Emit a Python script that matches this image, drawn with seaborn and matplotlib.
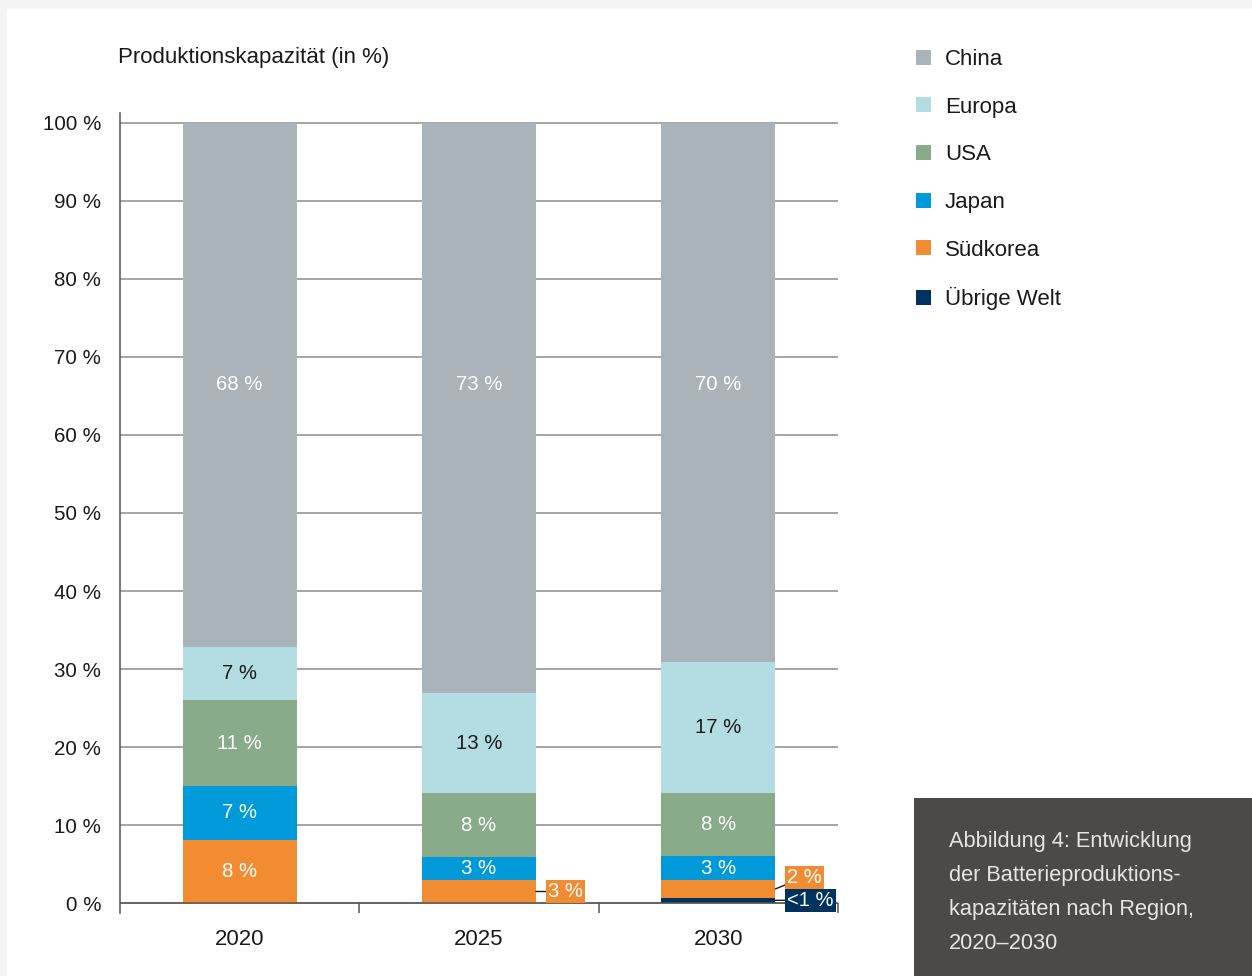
import matplotlib
matplotlib.use("Agg")
import matplotlib.pyplot as plt
from matplotlib.patches import Patch, Rectangle
import seaborn as sns
import pandas as pd
import numpy as np

# ---------------- data ----------------
years = ["2020", "2025", "2030"]
regions = ["China", "Europa", "USA", "Japan", "Südkorea", "Übrige Welt"]
china = [67.2, 73.1, 69.1]
europa = [6.8, 12.8, 16.8]
usa = [11.0, 8.2, 8.1]
japan = [6.9, 2.95, 3.1]
suedkorea = [8.1, 2.95, 2.2]
uebrige = [0.0, 0.0, 0.7]

label_china = ["68 %", "73 %", "70 %"]
label_europa = ["7 %", "13 %", "17 %"]
label_usa = ["11 %", "8 %", "8 %"]
label_japan = ["7 %", "3 %", "3 %"]
label_suedkorea = ["8 %", "3 %", "2 %"]
label_uebrige = ["", "", "<1 %"]

colors = {
    "China": "#a9b3b9",
    "Europa": "#b3dde3",
    "USA": "#8aab8a",
    "Japan": "#0099da",
    "Südkorea": "#f28c33",
    "Übrige Welt": "#00325f",
}

# ---------------- style ----------------
sns.set_style("white")
plt.rcParams["font.family"] = ["Liberation Sans", "DejaVu Sans"]

W, H = 1252, 976
fig = plt.figure(figsize=(W / 100, H / 100), dpi=100)
fig.patch.set_facecolor("white")
# light grey page border (top, left)
fig.patches.append(Rectangle((0, 1 - 9 / H), 1, 9 / H, transform=fig.transFigure,
                             facecolor="#f4f4f4", edgecolor="none", zorder=0))
fig.patches.append(Rectangle((0, 0), 7 / W, 1, transform=fig.transFigure,
                             facecolor="#f4f4f4", edgecolor="none", zorder=0))

ax = fig.add_axes([120 / W, (H - 913) / H, (838 - 120) / W, 800 / H])

series = {
    "China": china, "Europa": europa, "USA": usa,
    "Japan": japan, "Südkorea": suedkorea, "Übrige Welt": uebrige,
}
labels = {
    "China": label_china, "Europa": label_europa, "USA": label_usa,
    "Japan": label_japan, "Südkorea": label_suedkorea, "Übrige Welt": label_uebrige,
}

# stacking from bottom: Übrige Welt, Südkorea, Japan, USA, Europa, China
stack_order = regions[::-1]
rows = []
cum = np.zeros(len(years))
bottoms = {}
for r in stack_order:
    vals = np.array(series[r], dtype=float)
    bottoms[r] = cum.copy()
    cum = cum + vals
    for i, y in enumerate(years):
        rows.append({"year": y, "region": r, "top": cum[i], "value": vals[i],
                     "bottom": bottoms[r][i]})
df = pd.DataFrame(rows)

bar_w = 0.476
# draw cumulative bars from tallest to shortest so they overlay into a stack
for r in regions:
    sub = df[df.region == r]
    sns.barplot(data=sub, x="year", y="top", order=years, color=colors[r],
                saturation=1, width=bar_w, errorbar=None, ax=ax, zorder=2,
                linewidth=0)

# axes
ax.set_xlim(-0.5, 2.5)
ax.set_ylim(-1.28, 101.28)
ax.set_yticks(np.arange(0, 101, 10))
ax.set_yticklabels([f"{v} %" for v in range(0, 101, 10)])
ax.yaxis.grid(True, color="#8c8c8c", linewidth=1.1, zorder=0)
ax.set_axisbelow(True)
ax.tick_params(axis="y", length=10, width=1.1, color="#8c8c8c", pad=3.5,
               labelsize=14.8, labelcolor="#1a1a1a")
ax.set_xticks(range(len(years)))
ax.set_xticklabels(years)
ax.tick_params(axis="x", length=0, pad=11.5, labelsize=16, labelcolor="#1a1a1a")
ax.set_xlabel("")
ax.set_ylabel("")
for s in ["top", "right", "bottom"]:
    ax.spines[s].set_visible(False)
ax.spines["left"].set_color("#555555")
ax.spines["left"].set_linewidth(1.1)
ax.axhline(0, color="#555555", linewidth=1.1, zorder=3)
ax.vlines([0.5, 1.5, 2.5], -1.28, 0, color="#555555", linewidth=1.1, clip_on=False)

# segment labels inside bars
for r in regions:
    for i, y in enumerate(years):
        txt = labels[r][i]
        v = series[r][i]
        if not txt or r == "Übrige Welt":
            continue
        if r == "Südkorea" and i > 0:
            continue  # annotated outside the bar
        ypos = 66.5 if r == "China" else bottoms[r][i] + v / 2
        col = "#1a1a1a" if r == "Europa" else "white"
        ax.text(i, ypos, txt, ha="center", va="center", fontsize=14.7, color=col, zorder=4)

# outside annotations for small segments
edge = bar_w / 2
ann = [
    (1, "Südkorea", 0, "#f28c33"),
    (2, "Südkorea", 8.6, "#f28c33"),
    (2, "Übrige Welt", 0, "#00325f"),
]
for i, r, dy, bc in ann:
    yc = bottoms[r][i] + series[r][i] / 2
    ax.annotate(labels[r][i], xy=(i + edge, yc), xytext=(8.6, dy),
                textcoords="offset points", ha="left", va="center",
                fontsize=14.5, color="white", zorder=5,
                bbox=dict(boxstyle="square,pad=0.1", facecolor=bc, edgecolor="none"),
                arrowprops=dict(arrowstyle="-", color="#1a1a1a", lw=1.0,
                                shrinkA=0, shrinkB=0),
                annotation_clip=False)

# title
fig.text(118 / W, 1 - 57 / H, "Produktionskapazität (in %)", ha="left", va="center",
         fontsize=16, color="#1a1a1a")

# legend
handles = [Patch(facecolor=colors[r], edgecolor="none", label=r) for r in regions]
fig.legend(handles=handles, loc="upper left", bbox_to_anchor=(916 / W, 1 - 49 / H),
           frameon=False, fontsize=16, handlelength=0.675, handleheight=0.675,
           handletextpad=0.63, labelspacing=1.2, borderpad=0, borderaxespad=0,
           labelcolor="#1a1a1a")

# caption box
fig.patches.append(Rectangle((914 / W, 0), 1 - 914 / W, (H - 798) / H,
                             transform=fig.transFigure, facecolor="#4b4a48",
                             edgecolor="none", zorder=1))
cap_lines = ["Abbildung 4: Entwicklung", "der Batterieproduktions-",
             "kapazitäten nach Region,", "2020–2030"]
for k, line in enumerate(cap_lines):
    fig.text(949 / W, 1 - (841 + k * 34.3) / H, line, ha="left", va="center",
             fontsize=15.7, color="#e6e6e6", zorder=2)

fig.savefig("out.png", dpi=100, facecolor=fig.get_facecolor())
